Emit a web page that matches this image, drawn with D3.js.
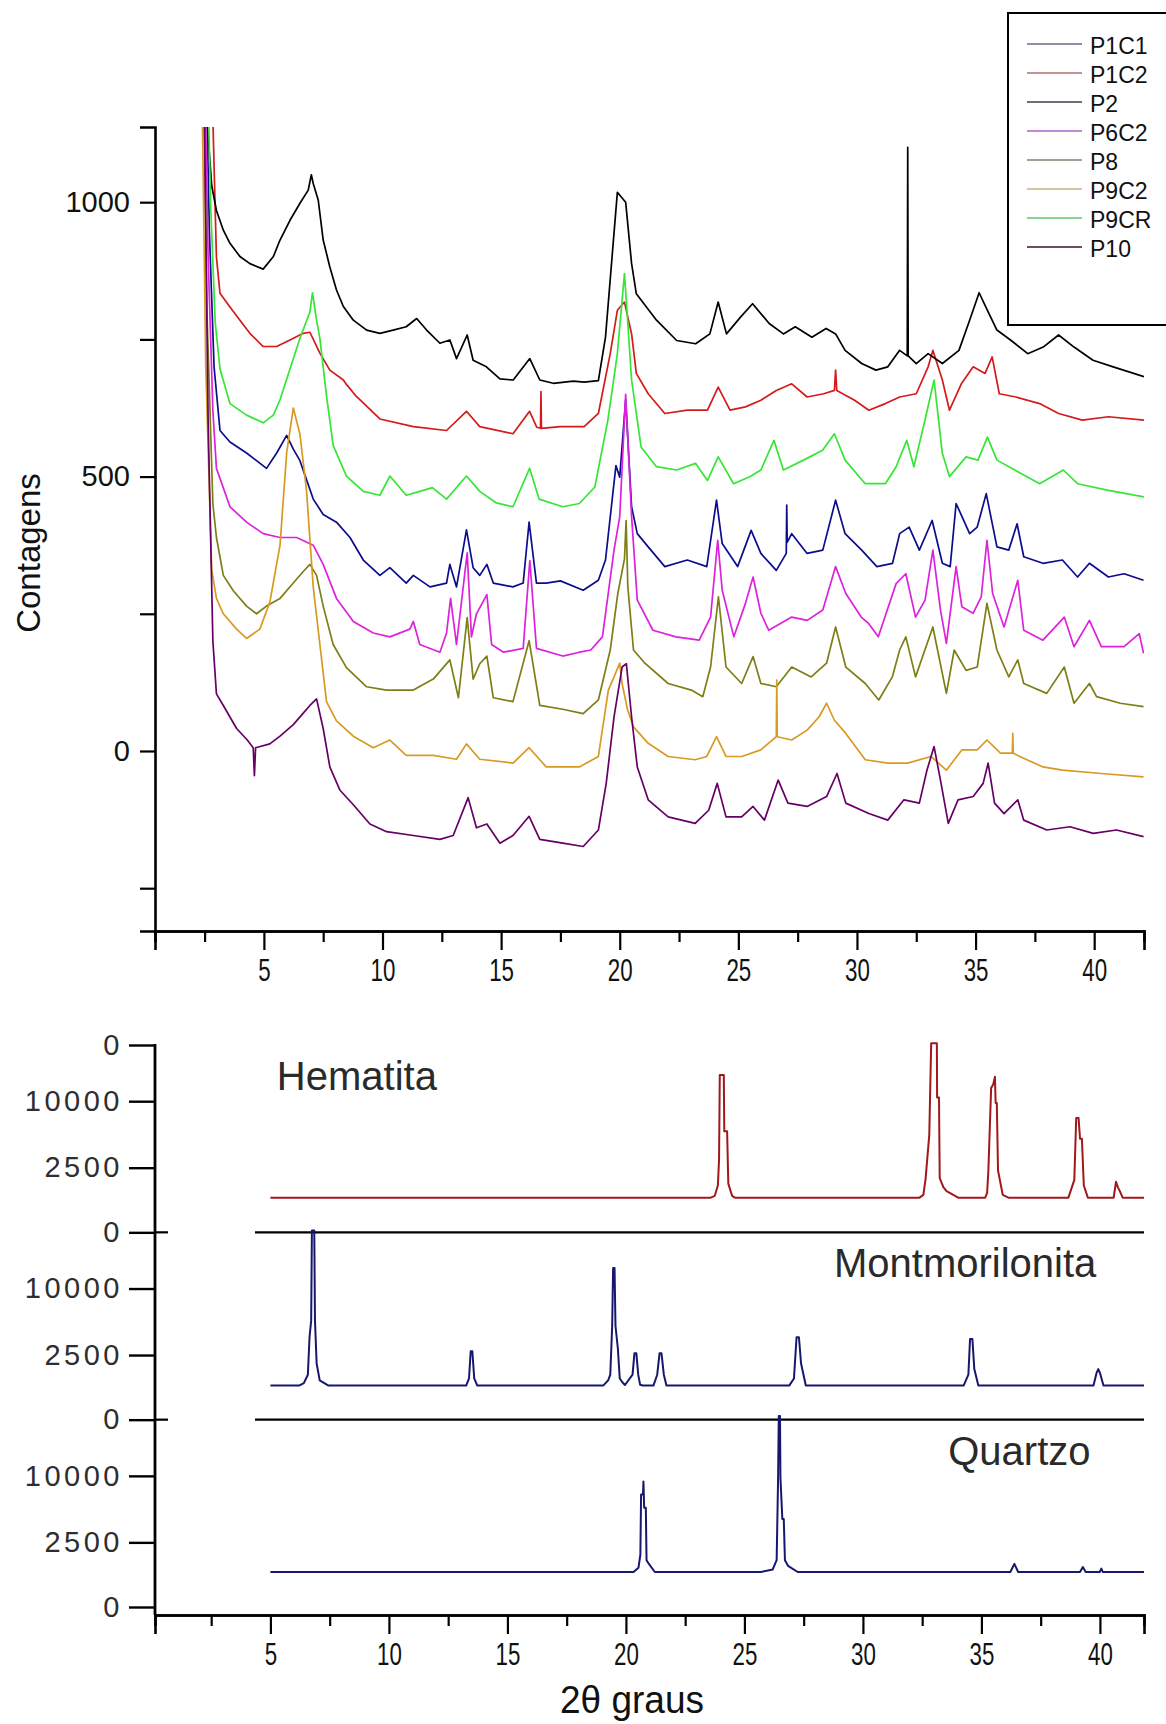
<!DOCTYPE html>
<html><head><meta charset="utf-8">
<script src="https://cdn.jsdelivr.net/npm/d3@7"></script>
<style>body{margin:0;background:#fff}svg{display:block}</style>
</head><body>
<svg id="c" width="1166" height="1724"></svg>
<script>
// ---------- DATA ----------
const seriesNames = ["P1C1","P1C2","P2","P6C2","P8","P9C2","P9CR","P10"];
const traceColors = ["#0c0c8c","#d41a1a","#000000","#dc22dc","#7e7e16","#d89a22","#36e636","#660066"];
const legendColors = ["#6a6a92","#b07070","#404050","#b060c0","#808070","#c8b080","#60c070","#401030"];

const P1C1 = [[2.45,1500],[2.7,950],[2.9,700],[3.15,584],[3.57,563],[4.27,543],[4.69,529],[5.11,515],[5.54,543],[5.96,575],[6.24,550],[6.52,529],[6.8,494],[7.08,459],[7.5,431],[8.06,417],[8.63,389],[9.19,348],[9.89,320],[10.31,334],[11.0,306],[11.3,320],[12.0,299],[12.7,306],[12.84,340],[13.12,299],[13.54,403],[13.82,334],[14.1,320],[14.4,340],[14.67,306],[15.5,299],[15.93,306],[16.18,417],[16.49,306],[16.9,306],[17.5,310],[18.46,293],[19.1,311],[19.4,348],[19.84,520],[20.0,499],[20.25,640],[20.5,445],[20.74,396],[21.2,372],[21.9,336],[22.85,348],[23.67,336],[24.08,457],[24.32,378],[24.97,336],[25.54,402],[25.95,360],[26.6,329],[27.02,360],[27.04,448],[27.06,380],[27.25,396],[27.9,360],[28.56,366],[29.1,457],[29.5,396],[30.2,366],[30.84,336],[31.5,342],[31.8,396],[32.2,408],[32.63,366],[33.17,420],[33.6,342],[33.93,336],[34.18,451],[34.75,396],[35.07,408],[35.45,469],[35.9,372],[36.4,366],[36.75,414],[37.03,354],[37.84,342],[38.66,348],[39.3,317],[39.8,342],[40.6,317],[41.26,323],[42.08,311]];
const P1C2 = [[2.6,1500],[2.85,1150],[3.0,900],[3.15,834],[3.57,809],[3.99,785],[4.41,761],[4.97,737],[5.54,737],[6.1,749],[6.66,761],[6.94,763],[7.36,725],[7.78,694],[8.35,676],[8.48,668],[8.9,646],[9.89,605],[11.3,591],[12.7,584],[13.54,619],[14.1,591],[15.5,578],[16.2,619],[16.5,590],[16.66,588],[16.68,655],[16.7,588],[17.5,591],[18.5,591],[19.1,615],[19.6,724],[19.9,803],[20.2,818],[20.5,760],[20.7,688],[21.2,651],[21.9,615],[22.85,621],[23.7,621],[24.15,663],[24.65,621],[25.3,627],[25.95,639],[26.6,657],[27.25,669],[27.9,645],[28.6,651],[29.05,657],[29.1,694],[29.15,657],[29.9,639],[30.5,621],[31.2,633],[31.8,645],[32.5,651],[33.0,700],[33.2,730],[33.6,676],[33.9,621],[34.4,669],[34.9,700],[35.4,688],[35.7,718],[36.0,651],[36.7,645],[37.7,633],[38.5,615],[39.5,603],[40.6,609],[42.1,603]];
const P2 = [[2.35,1500],[2.6,1150],[2.8,1030],[3.0,985],[3.29,949],[3.57,925],[3.99,901],[4.41,888],[4.97,878],[5.4,901],[5.68,931],[6.1,967],[6.52,998],[6.87,1022],[7.0,1050],[7.08,1034],[7.29,1004],[7.5,931],[7.78,882],[8.06,840],[8.35,810],[8.77,785],[9.33,767],[9.89,761],[10.45,767],[11.0,773],[11.44,788],[11.86,767],[12.42,743],[12.84,749],[13.12,715],[13.57,758],[13.82,712],[14.38,700],[14.95,678],[15.51,676],[16.21,715],[16.63,676],[17.2,670],[18.04,674],[18.5,672],[19.1,675],[19.4,754],[19.9,1018],[20.25,1000],[20.5,888],[20.7,833],[21.55,785],[22.4,748],[23.2,742],[23.8,760],[24.15,818],[24.5,760],[25.1,791],[25.6,815],[26.3,779],[26.9,760],[27.4,773],[28.1,754],[28.7,770],[29.1,760],[29.5,730],[30.2,706],[30.8,694],[31.3,700],[31.8,730],[32.12,720],[32.14,1100],[32.16,720],[32.5,706],[33.0,724],[33.6,706],[34.3,730],[34.75,785],[35.15,835],[35.5,803],[35.9,767],[36.5,748],[37.2,724],[37.85,736],[38.5,758],[39.15,736],[39.95,712],[40.8,700],[42.1,682]];
const P6C2 = [[2.4,1500],[2.65,900],[2.85,620],[3.0,515],[3.57,445],[4.27,417],[4.97,396],[5.68,389],[6.38,389],[7.08,375],[7.5,340],[8.06,278],[8.77,236],[9.61,215],[10.31,208],[11.15,222],[11.3,236],[11.57,194],[12.42,180],[12.7,215],[12.87,278],[13.12,194],[13.57,361],[13.75,208],[13.96,250],[14.4,285],[14.6,194],[15.1,180],[15.93,187],[16.21,347],[16.49,187],[17.6,173],[18.3,180],[18.78,184],[19.27,208],[19.76,366],[20.0,427],[20.25,650],[20.5,427],[20.74,275],[21.4,220],[22.37,208],[23.35,202],[23.83,244],[24.13,384],[24.32,293],[24.81,208],[25.3,269],[25.62,317],[25.95,251],[26.28,220],[27.25,244],[27.9,238],[28.56,257],[29.1,336],[29.53,287],[30.18,244],[30.5,232],[30.9,208],[31.65,305],[32.06,323],[32.47,244],[32.87,275],[33.2,366],[33.52,257],[33.77,196],[34.18,336],[34.42,263],[34.9,251],[35.24,281],[35.48,384],[35.72,287],[36.2,226],[36.78,311],[37.03,220],[37.84,202],[38.74,244],[39.15,190],[39.8,238],[40.3,190],[41.26,190],[41.9,214],[42.08,178]];
const P8 = [[2.35,1500],[2.6,800],[2.85,450],[3.0,389],[3.29,320],[3.71,292],[4.27,264],[4.69,250],[5.11,264],[5.68,278],[6.24,306],[6.66,327],[6.94,340],[7.22,320],[7.5,264],[7.92,194],[8.48,152],[9.33,117],[10.17,111],[11.3,111],[12.14,131],[12.84,166],[13.2,97],[13.57,243],[13.82,131],[14.1,159],[14.4,173],[14.67,97],[15.5,90],[16.18,201],[16.63,83],[17.6,76],[18.46,68],[19.1,93],[19.6,184],[19.92,287],[20.2,350],[20.27,420],[20.34,300],[20.58,184],[21.06,160],[22.04,123],[23.02,111],[23.5,99],[23.83,153],[24.16,281],[24.48,153],[25.14,123],[25.62,172],[25.95,123],[26.6,117],[27.25,153],[28.07,135],[28.72,160],[29.1,226],[29.53,153],[30.35,123],[30.92,93],[31.49,135],[31.8,184],[32.06,208],[32.47,135],[33.2,226],[33.77,105],[34.1,184],[34.6,147],[35.07,153],[35.48,269],[35.9,184],[36.4,135],[36.78,166],[37.03,123],[38.0,105],[38.74,153],[39.15,87],[39.8,123],[40.1,99],[41.1,87],[42.08,81]];
const P9C2 = [[2.3,1500],[2.55,700],[2.8,330],[3.0,278],[3.29,250],[3.85,222],[4.27,205],[4.83,222],[5.25,271],[5.68,375],[5.96,543],[6.24,625],[6.52,577],[6.8,473],[7.08,299],[7.36,194],[7.64,90],[8.06,55],[8.77,27],[9.61,6],[10.31,20],[11.0,-8],[12.14,-8],[13.12,-15],[13.54,13],[14.1,-15],[15.5,-22],[16.18,6],[16.9,-29],[18.3,-29],[19.1,-10],[19.52,111],[19.76,135],[20.0,160],[20.1,123],[20.33,75],[20.58,44],[21.2,14],[22.04,-10],[23.18,-16],[23.67,-10],[24.08,26],[24.48,-10],[25.14,-10],[25.95,2],[26.6,26],[26.62,129],[26.64,26],[27.25,20],[27.9,38],[28.4,62],[28.72,87],[29.05,56],[29.53,32],[30.35,-16],[31.3,-22],[32.14,-22],[33.12,-10],[33.77,-35],[34.42,2],[35.07,2],[35.48,20],[36.05,-4],[36.55,-4],[36.57,32],[36.59,-4],[36.86,-10],[37.84,-29],[38.66,-35],[40.3,-41],[42.08,-47]];
const P9CR = [[2.5,1500],[2.75,1000],[2.95,780],[3.15,696],[3.57,633],[4.27,612],[4.97,598],[5.4,612],[5.68,640],[6.1,696],[6.52,752],[6.94,800],[7.05,835],[7.2,790],[7.36,752],[7.64,647],[7.92,557],[8.48,501],[9.19,473],[9.89,466],[10.31,501],[11.0,466],[11.57,473],[12.1,480],[12.7,459],[13.54,501],[14.1,473],[14.8,452],[15.5,445],[16.2,515],[16.6,459],[17.6,445],[18.3,451],[18.95,481],[19.5,603],[19.9,724],[20.2,870],[20.5,676],[20.9,554],[21.55,518],[22.4,512],[23.2,524],[23.7,493],[24.15,536],[24.8,487],[25.5,500],[25.95,512],[26.5,566],[26.9,512],[27.75,530],[28.55,548],[29.05,578],[29.5,530],[30.35,487],[31.2,487],[31.65,518],[32.1,566],[32.4,518],[32.9,609],[33.25,676],[33.6,542],[33.9,500],[34.6,536],[35.1,530],[35.5,572],[35.9,530],[36.9,506],[37.7,487],[38.7,512],[39.3,487],[40.6,475],[42.1,463]];
const P10 = [[2.4,1500],[2.65,600],[2.85,200],[3.0,104],[3.29,83],[3.85,41],[4.3,20],[4.55,6],[4.6,-45],[4.65,6],[5.25,13],[5.68,27],[6.24,48],[6.66,69],[6.94,83],[7.22,95],[7.5,41],[7.78,-29],[8.2,-71],[8.77,-98],[9.47,-133],[10.17,-147],[11.3,-154],[12.42,-161],[12.98,-154],[13.61,-85],[13.96,-140],[14.4,-133],[14.95,-168],[15.5,-154],[16.18,-119],[16.63,-161],[17.6,-168],[18.46,-174],[19.1,-144],[19.43,-59],[19.76,62],[20.1,153],[20.28,159],[20.5,62],[20.74,-29],[21.2,-89],[22.04,-120],[23.18,-132],[23.75,-108],[24.11,-59],[24.48,-120],[25.14,-120],[25.62,-101],[26.1,-126],[26.68,-53],[27.09,-95],[27.9,-101],[28.72,-83],[29.16,-41],[29.53,-95],[30.5,-114],[31.3,-126],[31.98,-89],[32.63,-95],[32.95,-35],[33.25,8],[33.52,-53],[33.85,-132],[34.26,-89],[34.9,-83],[35.32,-59],[35.53,-22],[35.8,-95],[36.2,-114],[36.78,-89],[37.03,-126],[38.0,-144],[38.98,-138],[39.96,-150],[40.94,-144],[42.08,-156]];
const seriesData = {P1C1, P1C2, P2, P6C2, P8, P9C2, P9CR, P10};

const topYMajor = [0, 500, 1000];
const topYMinor = [-250, 250, 750];
const xMajor = [5, 10, 15, 20, 25, 30, 35, 40];
const xMinor = [2.5, 7.5, 12.5, 17.5, 22.5, 27.5, 32.5, 37.5];

// reference patterns (relative % of panel height)
const panelNames = ["Hematita", "Montmorilonita", "Quartzo"];
const panelColors = ["#a0181c", "#17176e", "#17176e"];
const panelTickValues = [0, 34.5, 70, 100];
const panelTickLabels = ["0", "2500", "10000", "0"];
const Hematita = [[5,18.5],[23.58,18.5],[23.75,19.5],[23.88,25],[23.93,39],[23.96,84],[24.13,84],[24.15,54],[24.27,54],[24.32,26],[24.48,19.5],[24.6,18.5],[32.39,18.5],[32.55,20],[32.64,28],[32.8,52],[32.88,101],[33.12,101],[33.13,72],[33.21,72],[33.24,29],[33.4,24],[33.53,22],[34.02,18.5],[35.16,18.5],[35.24,21],[35.29,32],[35.41,77],[35.5,79],[35.57,83],[35.6,69],[35.65,69],[35.7,33],[35.9,20],[36.14,18.5],[38.67,18.5],[38.92,28],[39.0,61],[39.1,61],[39.16,50],[39.24,50],[39.32,25],[39.49,18.5],[40.58,18.5],[40.68,27],[40.76,24],[40.84,22],[40.96,18.5],[41.86,18.5]];
const Montmorilonita = [[5,18.2],[6.21,18.2],[6.41,19.5],[6.58,24],[6.65,44],[6.72,53],[6.75,101],[6.85,101],[6.88,53],[6.95,30],[7.08,21],[7.45,18.2],[13.26,18.2],[13.38,22],[13.45,36.5],[13.52,36.5],[13.6,22],[13.73,18.2],[19.04,18.2],[19.25,21],[19.34,24],[19.42,50],[19.46,81],[19.52,81],[19.56,50],[19.66,38],[19.74,22],[19.85,20],[19.96,18.5],[20.28,24],[20.36,35.5],[20.44,35.5],[20.52,24],[20.6,18.6],[20.71,18.2],[21.16,18.2],[21.32,24],[21.42,35.5],[21.5,35.5],[21.6,24],[21.71,18.2],[26.89,18.2],[27.09,22],[27.2,44],[27.3,44],[27.39,30],[27.59,18.2],[34.25,18.2],[34.45,24],[34.52,43],[34.62,43],[34.7,27],[34.87,18.2],[39.73,18.2],[39.86,25],[39.93,27],[40.0,25],[40.15,18.2],[41.86,18.2]];
const Quartzo = [[5,18.7],[20.32,18.7],[20.53,21],[20.61,28],[20.64,60],[20.72,60],[20.74,67],[20.77,53],[20.84,53],[20.87,25],[20.97,23],[21.22,18.7],[25.7,18.7],[26.19,20],[26.36,25],[26.42,68],[26.45,102],[26.5,102],[26.52,69],[26.6,47],[26.66,47],[26.71,25],[26.84,22],[27.25,18.7],[36.22,18.7],[36.39,23],[36.55,18.7],[39.16,18.7],[39.28,21.3],[39.4,18.7],[39.99,18.7],[40.06,20.5],[40.12,18.7],[41.86,18.7]];
const patterns = [Hematita, Montmorilonita, Quartzo];

// ---------- LAYOUT ----------
const svg = d3.select("#c");
const FONT = "'Liberation Sans', Arial, sans-serif";
const left = 155, right = 1144;

// top chart scales
const xT = d3.scaleLinear().domain([0.41, 42.1]).range([left, right]);
const yT = d3.scaleLinear().domain([-328, 1137]).range([931, 127]);

svg.append("defs").append("clipPath").attr("id", "clipTop")
  .append("rect").attr("x", left).attr("y", yT(1137)).attr("width", right - left).attr("height", yT(-328) - yT(1137));

const line = d3.line().x(d => xT(d[0])).y(d => yT(d[1]));
const gTraces = svg.append("g").attr("clip-path", "url(#clipTop)");
seriesNames.forEach((n, i) => {
  gTraces.append("path").datum(seriesData[n])
    .attr("d", line).attr("fill", "none")
    .attr("stroke", traceColors[i]).attr("stroke-width", 1.7).attr("stroke-linejoin", "round");
});

function styleAxis(g) {
  g.selectAll("path.domain").attr("stroke", "#000").attr("stroke-width", 2.6);
  g.selectAll("line").attr("stroke", "#000").attr("stroke-width", 2.2);
}

// top y axis
const gyT = svg.append("g").attr("transform", `translate(${left},0)`)
  .call(d3.axisLeft(yT).tickValues(topYMajor.concat(topYMinor)).tickSize(15).tickPadding(10)
    .tickFormat(d => topYMajor.includes(d) ? d : ""));
styleAxis(gyT);
gyT.selectAll("text").attr("font-family", FONT).attr("font-size", 29).attr("fill", "#111");

// top x axis
const gxT = svg.append("g").attr("transform", `translate(0,${yT(-328)})`)
  .call(d3.axisBottom(xT).tickValues(xMajor).tickSize(19).tickPadding(9));
styleAxis(gxT);
gxT.selectAll("text").attr("font-family", FONT).attr("font-size", 31).attr("fill", "#111")
  .attr("transform", "scale(0.72,1)");
const gxTm = svg.append("g").attr("transform", `translate(0,${yT(-328)})`)
  .call(d3.axisBottom(xT).tickValues(xMinor).tickSize(11).tickFormat(""));
styleAxis(gxTm);

svg.append("text").attr("transform", `translate(40,553) rotate(-90)`)
  .attr("text-anchor", "middle").attr("font-family", FONT).attr("font-size", 33).attr("fill", "#111")
  .text("Contagens");

// legend
const legY = d3.scalePoint().domain(seriesNames).range([44, 247]);
const gl = svg.append("g");
gl.append("rect").attr("x", 1008).attr("y", 13).attr("width", 200).attr("height", 312)
  .attr("fill", "#fff").attr("stroke", "#000").attr("stroke-width", 2);
seriesNames.forEach((n, i) => {
  gl.append("line").attr("x1", 1027).attr("x2", 1082).attr("y1", legY(n)).attr("y2", legY(n))
    .attr("stroke", legendColors[i]).attr("stroke-width", 1.6);
  gl.append("text").attr("x", 1090).attr("y", legY(n) + 2).attr("dy", "0.35em")
    .attr("font-family", FONT).attr("font-size", 23).attr("fill", "#111").text(n);
});

// ---------- bottom chart ----------
const xB = d3.scaleLinear().domain([0.13, 41.86]).range([left, right]);
const panelBand = d3.scaleBand().domain(panelNames).range([1045, 1607]);
const xAxisY = 1615;

svg.append("line").attr("x1", left).attr("x2", left).attr("y1", 1044).attr("y2", xAxisY)
  .attr("stroke", "#000").attr("stroke-width", 2.8);

panelNames.forEach((name, i) => {
  const y0 = panelBand(name), h = panelBand.bandwidth();
  const yP = d3.scaleLinear().domain([0, 100]).range([y0 + h, y0]);
  const vals = (i === panelNames.length - 1) ? panelTickValues : panelTickValues.slice(1);
  const gy = svg.append("g").attr("transform", `translate(${left},0)`)
    .call(d3.axisLeft(yP).tickValues(vals).tickSize(26).tickPadding(6)
      .tickFormat(d => panelTickLabels[panelTickValues.indexOf(d)]));
  gy.select("path.domain").remove();
  gy.selectAll("line").attr("stroke", "#000").attr("stroke-width", 2.4);
  gy.selectAll("text").attr("font-family", FONT).attr("font-size", 29).attr("fill", "#2e2e2e")
    .attr("letter-spacing", 3.5);
  if (i > 0) {
    svg.append("line").attr("x1", left).attr("x2", left + 13).attr("y1", y0).attr("y2", y0)
      .attr("stroke", "#000").attr("stroke-width", 2.2);
    svg.append("line").attr("x1", xB(4.35)).attr("x2", right).attr("y1", y0).attr("y2", y0)
      .attr("stroke", "#000").attr("stroke-width", 2.2);
  }
  const pl = d3.line().x(d => xB(d[0])).y(d => yP(d[1]));
  svg.append("path").datum(patterns[i]).attr("d", pl).attr("fill", "none")
    .attr("stroke", panelColors[i]).attr("stroke-width", 2).attr("stroke-linejoin", "round");
});

const labelPos = [5.27, 28.78, 33.6];
panelNames.forEach((name, i) => {
  const y0 = panelBand(name), h = panelBand.bandwidth();
  const yP = d3.scaleLinear().domain([0, 100]).range([y0 + h, y0]);
  svg.append("text").attr("x", xB(labelPos[i])).attr("y", yP(76))
    .attr("font-family", FONT).attr("font-size", 40).attr("fill", "#2a2a2a").text(name);
});

const gxB = svg.append("g").attr("transform", `translate(0,${xAxisY})`)
  .call(d3.axisBottom(xB).tickValues(xMajor).tickSize(19).tickPadding(9));
styleAxis(gxB);
gxB.selectAll("text").attr("font-family", FONT).attr("font-size", 31).attr("fill", "#111")
  .attr("transform", "scale(0.72,1)");
const gxBm = svg.append("g").attr("transform", `translate(0,${xAxisY})`)
  .call(d3.axisBottom(xB).tickValues(xMinor).tickSize(11).tickFormat(""));
styleAxis(gxBm);

svg.append("text").attr("x", 632).attr("y", 1713).attr("text-anchor", "middle")
  .attr("font-family", FONT).attr("font-size", 39).attr("fill", "#111")
  .attr("transform", "translate(632,0) scale(0.95,1) translate(-632,0)")
  .text("2θ graus");
</script>
</body></html>
